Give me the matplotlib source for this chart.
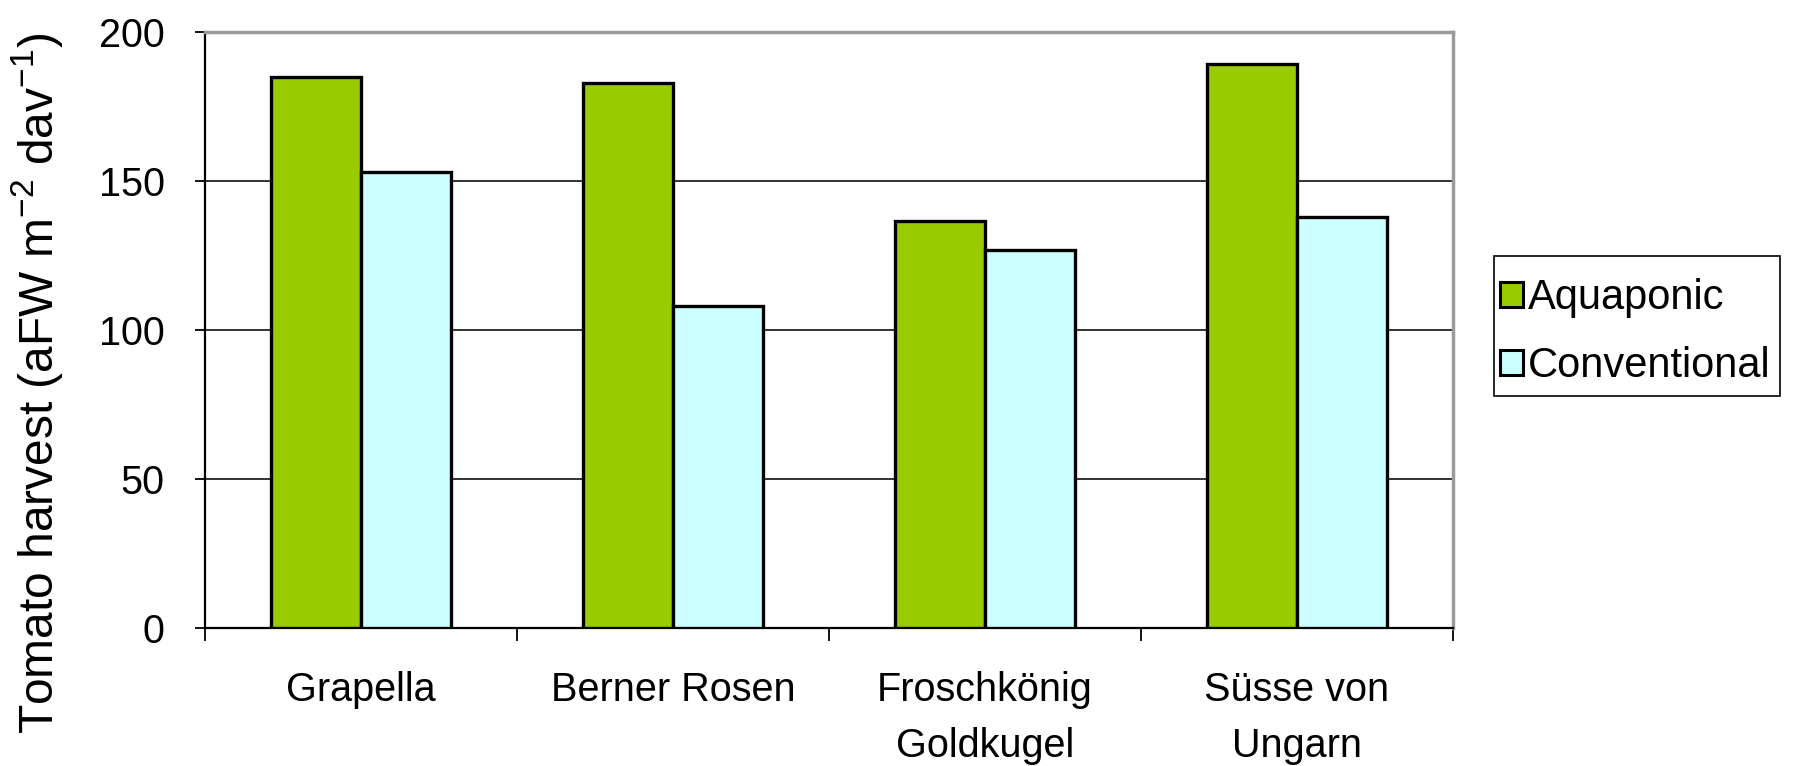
import matplotlib
matplotlib.use("Agg")
import matplotlib.pyplot as plt
import numpy as np
from matplotlib.patches import Patch, Rectangle

# Tomato harvest per variety, aquaponic vs conventional cultivation
categories = ["Grapella", "Berner Rosen", "Froschkönig\nGoldkugel", "Süsse von\nUngarn"]
aquaponic = [185, 183, 136.5, 189.5]
conventional = [153, 108, 127, 138]
series_names = ["Aquaponic", "Conventional"]
yticks = [0, 50, 100, 150, 200]
ylabel = "Tomato harvest (aFW m$^{-2}$ dav$^{-1}$)"

plt.rcParams["font.family"] = ["Liberation Sans", "DejaVu Sans"]
plt.rcParams["mathtext.fontset"] = "custom"
plt.rcParams["mathtext.rm"] = "Liberation Sans"
plt.rcParams["mathtext.it"] = "Liberation Sans:italic"
plt.rcParams["mathtext.bf"] = "Liberation Sans:bold"

green = "#99CC00"
cyan = "#CCFFFF"

fig = plt.figure(figsize=(18.16, 7.66), dpi=100)
ax = fig.add_axes([0.1129, 0.1805, 0.6872, 0.7772])

x = np.arange(len(categories))
w = 0.29
ax.bar(x - w / 2, aquaponic, w, color=green, edgecolor="black", linewidth=2.4, zorder=3)
ax.bar(x + w / 2, conventional, w, color=cyan, edgecolor="black", linewidth=2.4, zorder=3)

ax.set_xlim(-0.5, len(categories) - 0.5)
ax.set_ylim(yticks[0], yticks[-1])
ax.set_yticks(yticks)
ax.yaxis.grid(True, color="#222222", linewidth=1.3, zorder=0)
ax.set_axisbelow(True)

ax.set_xticks(x)
ax.set_xticklabels(categories, linespacing=1.6)
ax.set_xticks(np.arange(-0.5, len(categories), 1.0), minor=True)
ax.tick_params(axis="x", which="major", length=0, pad=31, labelsize=28.5)
ax.tick_params(axis="x", which="minor", direction="out", length=9.5, width=1.3, color="black")
ax.tick_params(axis="y", direction="out", length=7, width=1.3, pad=22, labelsize=28.5)

for side in ("left", "bottom"):
    ax.spines[side].set_color("black")
    ax.spines[side].set_linewidth(1.6)
for side in ("top", "right"):
    ax.spines[side].set_color("#9a9a9a")
    ax.spines[side].set_linewidth(2.5)

fig.text(0.0205, 0.5, ylabel, rotation=90, ha="center", va="center", fontsize=34.5)

# legend box drawn as a separate frame, entries placed inside it
box = Rectangle((1494 / 1816, 1 - 396 / 766), 286 / 1816, 140 / 766,
                transform=fig.transFigure, facecolor="white", edgecolor="black",
                linewidth=1.2, zorder=5)
fig.add_artist(box)
handles = [Patch(facecolor=green, edgecolor="black", linewidth=2.2),
           Patch(facecolor=cyan, edgecolor="black", linewidth=2.2)]
leg = fig.legend(handles, series_names, loc="upper left",
                 bbox_to_anchor=(1500 / 1816, 1 - 278 / 766),
                 borderaxespad=0, borderpad=0, fontsize=30, frameon=False,
                 handlelength=0.56, handleheight=0.56,
                 handletextpad=0.12, labelspacing=0.68)
leg.set_zorder(6)

fig.savefig("out.png", dpi=100, facecolor="white")
